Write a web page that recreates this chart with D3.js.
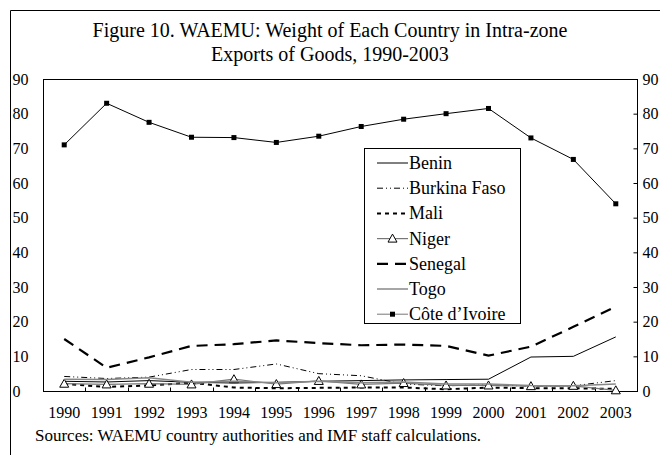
<!DOCTYPE html>
<meta charset="utf-8">
<style>
	body { margin: 0; background: #fff; }
	svg { display: block; }
	.axis path, .axis line { stroke: #000; }
</style>
<body>
<script src="https://d3js.org/d3.v7.min.js"></script>
<script>

	// years on the x axis
	var years = [1990,1991,1992,1993,1994,1995,1996,1997,1998,1999,2000,2001,2002,2003];

	// share of intra-zone exports, per cent
	var benin    = [2.8, 2.6, 3.0, 2.5, 2.3, 2.5, 2.8, 3.0, 3.2, 3.3, 3.4, 9.8, 10.0, 15.6];
	var burkina  = [4.2, 3.6, 4.0, 6.2, 6.2, 7.8, 5.0, 4.4, 2.0, 1.5, 1.8, 1.4, 1.5, 3.0];
	var mali     = [2.0, 1.2, 1.6, 2.4, 1.0, 0.8, 0.9, 1.0, 1.0, 0.5, 1.0, 0.8, 0.8, 0.6];
	var niger    = [2.1, 1.9, 2.1, 1.9, 3.4, 2.0, 2.9, 1.9, 2.3, 1.6, 1.6, 1.4, 1.5, 0.2];
	var senegal  = [15.0, 6.7, 9.7, 13.0, 13.5, 14.6, 13.8, 13.2, 13.4, 13.0, 10.2, 12.8, 18.5, 24.3];
	var togo     = [3.4, 3.3, 3.8, 2.5, 2.8, 2.4, 2.8, 2.4, 2.6, 2.0, 2.0, 1.6, 1.5, 2.0];
	var ivoire   = [71.0, 83.0, 77.5, 73.2, 73.1, 71.7, 73.5, 76.3, 78.4, 80.0, 81.5, 73.0, 66.8, 54.0];

	var seriesNames = ["Benin", "Burkina Faso", "Mali", "Niger", "Senegal", "Togo", "Côte  d’Ivoire"];
	var seriesValues = [benin, burkina, mali, niger, senegal, togo, ivoire];
	var yTicks = [0,10,20,30,40,50,60,70,80,90];

	// line styles per series
	var styles = [
		{stroke: "#000", width: 1, dash: null, marker: null},
		{stroke: "#000", width: 1, dash: "6,3,1,3,1,3", marker: null},
		{stroke: "#000", width: 2, dash: "4,4", marker: null},
		{stroke: "#777", width: 1.2, dash: null, marker: "triangle"},
		{stroke: "#000", width: 2.2, dash: "11,7", marker: null},
		{stroke: "#888", width: 1.5, dash: null, marker: null},
		{stroke: "#000", width: 1, dash: null, marker: "square"}
	];

	var serif = "'Liberation Serif', 'Times New Roman', serif";

	var width = 660, height = 455;
	var margin = {top: 79, left: 43, right: 23, bottom: 64};

	var svg = d3.select("body").append("svg")
			.attr("width", width)
			.attr("height", height);

	// outer frame
	svg.append("path")
			.attr("d", "M10.5," + height + "V10.5H" + width)
			.attr("fill", "none")
			.attr("stroke", "#000");

	// title
	var title = svg.append("text")
			.attr("text-anchor", "middle")
			.style("font-family", serif)
			.style("font-size", "20px");
	title.append("tspan").attr("x", 330).attr("y", 37).text("Figure 10. WAEMU: Weight of Each Country in Intra-zone");
	title.append("tspan").attr("x", 330).attr("y", 61).text("Exports of Goods, 1990-2003");

	var x = d3.scaleBand()
			.domain(years)
			.range([margin.left, width - margin.right]);

	var y = d3.scaleLinear()
			.domain([0, 90])
			.range([height - margin.bottom, margin.top]);

	// plot box
	svg.append("rect")
			.attr("x", margin.left + 0.5)
			.attr("y", margin.top + 0.5)
			.attr("width", width - margin.right - margin.left)
			.attr("height", height - margin.bottom - margin.top)
			.attr("fill", "none")
			.attr("stroke", "#000");

	// left axis: labels only
	var yLeft = svg.append("g")
			.attr("class", "axis")
			.attr("transform", "translate(" + (margin.left + 0.5) + ",0)")
			.call(d3.axisLeft(y).tickValues(yTicks).tickSize(0).tickPadding(15));
	yLeft.select(".domain").remove();
	yLeft.selectAll("text")
			.attr("text-anchor", "start").attr("x", -31)
			.style("font-family", serif).style("font-size", "16px").attr("fill", "#000");

	// right axis: inward ticks
	var yRight = svg.append("g")
			.attr("class", "axis")
			.attr("transform", "translate(" + (width - margin.right + 0.5) + ",0)")
			.call(d3.axisRight(y).tickValues(yTicks).tickSizeInner(-4).tickSizeOuter(0).tickPadding(5));
	yRight.select(".domain").remove();
	yRight.selectAll("text")
			.style("font-family", serif).style("font-size", "16px").attr("fill", "#000");

	// bottom axis: ticks at category boundaries, labels centred
	var bottom = svg.append("g")
			.attr("class", "axis")
			.attr("transform", "translate(0," + (height - margin.bottom + 0.5) + ")");
	bottom.selectAll("line")
			.data(years.slice(1))
			.enter().append("line")
			.attr("x1", function(d) { return Math.round(x(d)) + 0.5; })
			.attr("x2", function(d) { return Math.round(x(d)) + 0.5; })
			.attr("y1", 0)
			.attr("y2", -4);
	bottom.selectAll("text")
			.data(years)
			.enter().append("text")
			.attr("x", function(d) { return x(d) + x.bandwidth() / 2; })
			.attr("y", 26)
			.attr("text-anchor", "middle")
			.style("font-family", serif).style("font-size", "16px")
			.text(function(d) { return d; });

	var line = d3.line()
			.x(function(d, i) { return x(years[i]) + x.bandwidth() / 2; })
			.y(function(d) { return y(d); });

	var plot = svg.append("g");

	seriesValues.forEach(function(vals, k) {
		var s = styles[k];
		plot.append("path")
				.datum(vals)
				.attr("d", line)
				.attr("fill", "none")
				.attr("stroke", s.stroke)
				.attr("stroke-width", s.width)
				.attr("stroke-dasharray", s.dash);
		drawMarkers(plot, vals, s.marker);
	});

	function drawMarkers(g, vals, kind) {
		if (!kind) return;
		vals.forEach(function(v, i) {
			var cx = x(years[i]) + x.bandwidth() / 2, cy = y(v);
			addMarker(g, cx, cy, kind);
		});
	}

	function addMarker(g, cx, cy, kind) {
		if (kind === "square") {
			g.append("rect")
					.attr("x", cx - 2.5).attr("y", cy - 2.5)
					.attr("width", 5).attr("height", 5)
					.attr("fill", "#000");
		} else {
			g.append("path")
					.attr("d", "M" + cx + "," + (cy - 4.5) + "L" + (cx + 4.5) + "," + (cy + 3.5) + "L" + (cx - 4.5) + "," + (cy + 3.5) + "Z")
					.attr("fill", "#fff")
					.attr("stroke", "#000")
					.attr("stroke-width", 1);
		}
	}

	// legend
	var legend = svg.append("g").attr("class", "legend");
	legend.append("rect")
			.attr("x", 364.5).attr("y", 148.5)
			.attr("width", 156).attr("height", 175)
			.attr("fill", "#fff")
			.attr("stroke", "#000");

	seriesNames.forEach(function(name, k) {
		var s = styles[k], ly = 163 + k * 25.2;
		legend.append("line")
				.attr("x1", 377).attr("x2", 408)
				.attr("y1", ly).attr("y2", ly)
				.attr("stroke", k === 6 ? "#777" : s.stroke)
				.attr("stroke-width", s.width)
				.attr("stroke-dasharray", s.dash);
		if (s.marker) addMarker(legend, 392.5, ly, s.marker);
		legend.append("text")
				.attr("x", 409).attr("y", ly + 6)
				.style("font-family", serif).style("font-size", "18px")
				.text(name);
	});

	// source note
	svg.append("text")
			.attr("x", 35).attr("y", 441)
			.style("font-family", serif).style("font-size", "17px")
			.text("Sources: WAEMU country authorities and IMF staff calculations.");

</script>
</body>
</html>
